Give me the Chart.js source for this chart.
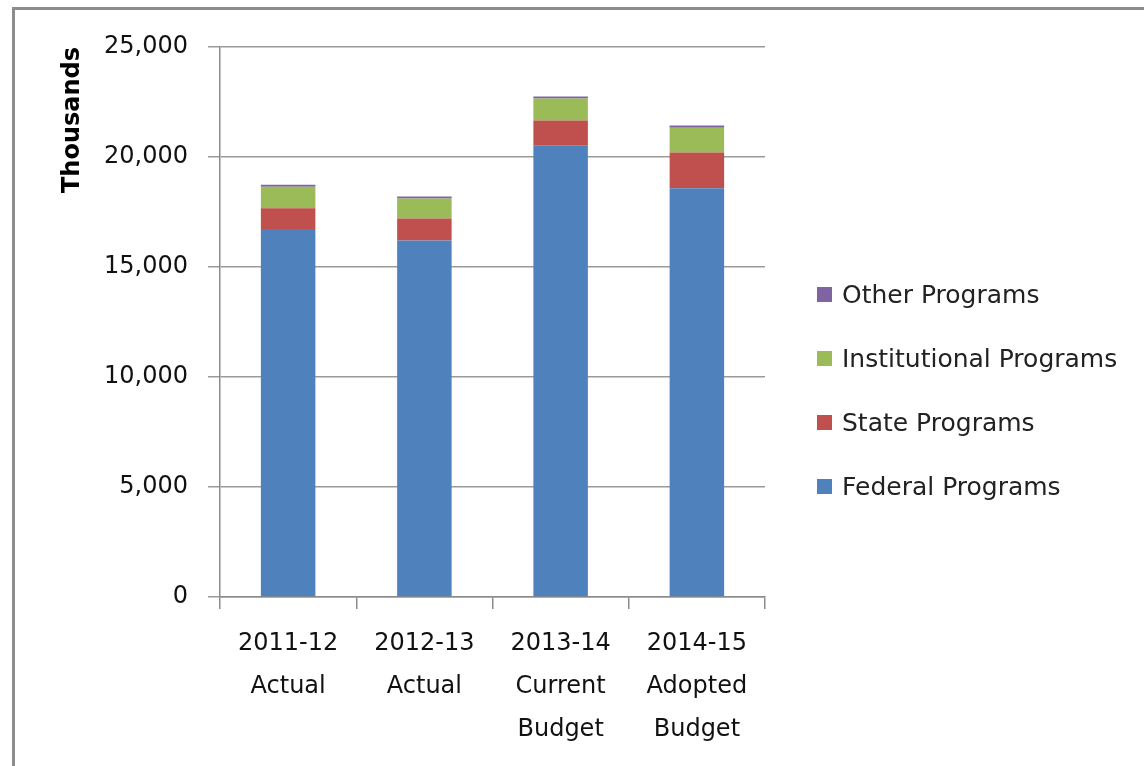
<!DOCTYPE html>
<html>
<head>
<meta charset="utf-8">
<script src="https://cdn.jsdelivr.net/npm/chart.js@4.4.1/dist/chart.umd.min.js"></script>
<style>
  html, body { margin: 0; padding: 0; background: #fff; }
  #marco { position: absolute; left: 12px; top: 7px; width: 1200px; height: 800px; border: 3px solid #8c8c8c; }
  #caja { position: absolute; left: 0; top: 0; width: 1144px; height: 766px; }
  #leyenda { position: absolute; left: 817px; top: 262px; font-family: 'DejaVu Sans'; font-size: 25px; color: #222; }
  #leyenda .fila { height: 64px; display: flex; align-items: center; white-space: nowrap; }
  #leyenda .cuadro { width: 15px; height: 15px; margin-right: 10px; }
</style>
</head>
<body>
<div id="marco"></div>
<div id="caja"><canvas id="grafico"></canvas></div>
<div id="leyenda"></div>
<script>
// Categorías (etiquetas del eje X en varias líneas)
const categorias = [
    ['2011-12', 'Actual'],
    ['2012-13', 'Actual'],
    ['2013-14', 'Current', 'Budget'],
    ['2014-15', 'Adopted', 'Budget']
];

// Valores por serie (miles)
const programasFederales = [16730, 16200, 20510, 18580];
const programasEstatales = [940, 1000, 1150, 1630];
const programasInstitucionales = [980, 910, 1000, 1120];
const otrosProgramas = [90, 100, 90, 100];

const fuente = 'DejaVu Sans';
const colorEje = '#8c8c8c';

const ctx = document.getElementById('grafico').getContext('2d');
const grafico = new Chart(ctx, {
    type: 'bar',
    data: {
        labels: categorias,
        datasets: [
            { label: 'Federal Programs', data: programasFederales, backgroundColor: '#4F81BD' },
            { label: 'State Programs', data: programasEstatales, backgroundColor: '#C0504D' },
            { label: 'Institutional Programs', data: programasInstitucionales, backgroundColor: '#9BBB59' },
            { label: 'Other Programs', data: otrosProgramas, backgroundColor: '#8064A2' }
        ]
    },
    options: {
        responsive: true,
        maintainAspectRatio: false,
        animation: false,
        categoryPercentage: 1,
        barPercentage: 0.4,
        layout: { padding: { left: 58, top: 47, right: 379, bottom: 0 } },
        plugins: {
            tooltip: { enabled: false },
            legend: { display: false }
        },
        scales: {
            x: {
                stacked: true,
                grid: { drawOnChartArea: false, drawTicks: true, tickLength: 12, color: colorEje, lineWidth: 1.5 },
                border: { color: colorEje, width: 1.5 },
                ticks: { color: '#111', padding: 13, maxRotation: 0, font: { family: fuente, size: 24, lineHeight: 1.8 } },
                afterFit: s => { s.height = 169; }
            },
            y: {
                stacked: true,
                min: 0,
                max: 25000,
                ticks: {
                    stepSize: 5000,
                    padding: 20,
                    color: '#111',
                    font: { family: fuente, size: 24 },
                    callback: v => v.toLocaleString('en-US')
                },
                grid: { color: '#9a9a9a', lineWidth: 1.5, tickLength: 12 },
                border: { color: colorEje, width: 1.5 },
                title: {
                    display: true,
                    text: 'Thousands',
                    align: 'end',
                    color: '#000',
                    padding: 0,
                    font: { family: fuente, size: 24, weight: 'bold', lineHeight: 1.2 }
                },
                afterFit: s => { s.width = 162; }
            }
        }
    }
});

// Leyenda en HTML, en orden inverso como en el original
const leyenda = document.getElementById('leyenda');
grafico.data.datasets.slice().reverse().forEach(ds => {
    const fila = document.createElement('div');
    fila.className = 'fila';
    const cuadro = document.createElement('span');
    cuadro.className = 'cuadro';
    cuadro.style.background = ds.backgroundColor;
    const texto = document.createElement('span');
    texto.textContent = ds.label;
    fila.appendChild(cuadro);
    fila.appendChild(texto);
    leyenda.appendChild(fila);
});
</script>
</body>
</html>
